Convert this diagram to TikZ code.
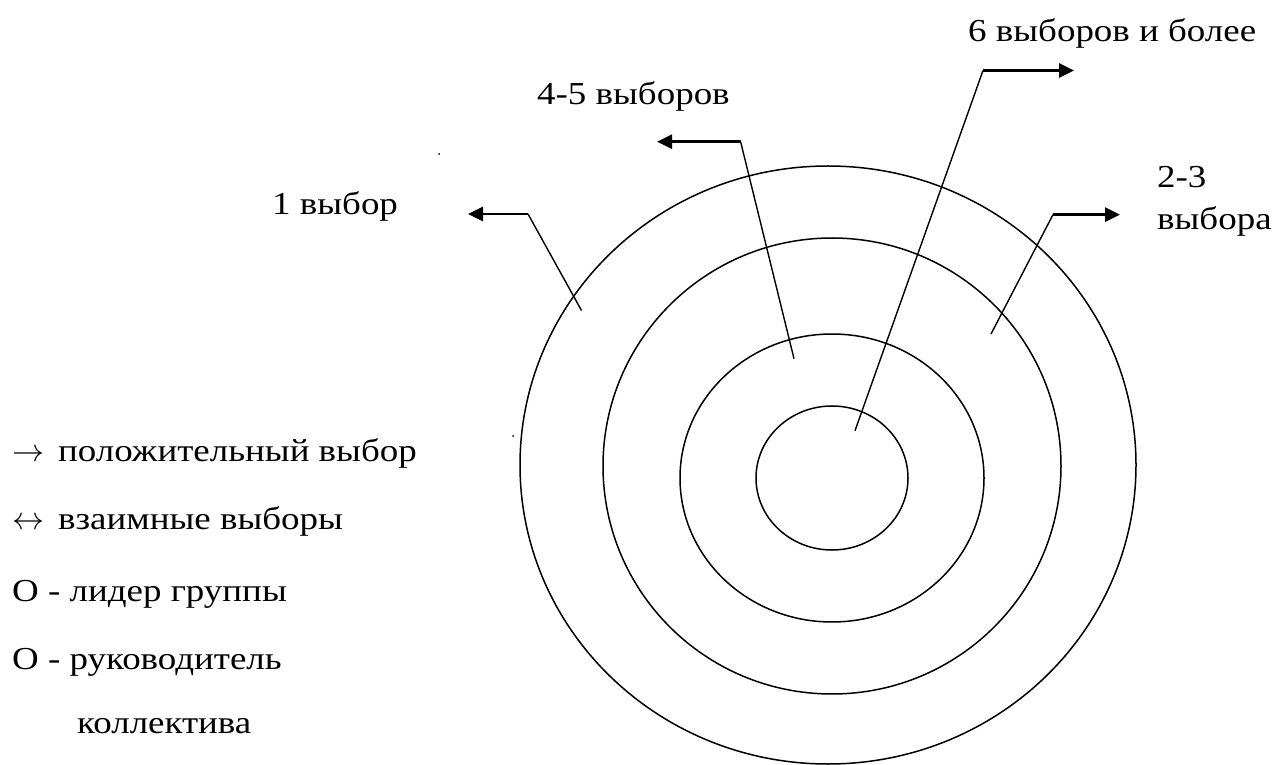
\RequirePackage{fix-cm}
\documentclass[tikz,border=0pt]{standalone}
\usepackage{fontspec}
\usepackage{graphicx}
\setmainfont{Liberation Serif}
\newfontfamily\trm{Liberation Serif}
\newcommand{\widetxt}[1]{\scalebox{1.155}[1]{#1}}
\usetikzlibrary{arrows.meta,shapes.geometric}
\begin{document}
\begin{tikzpicture}[x=1pt,y=1pt,
  ring/.style={draw,ellipse,line width=1.5pt,inner sep=0pt},
  lead/.style={line width=1.4pt},
  shaft/.style={line width=2.8pt,-{Triangle[length=15pt,width=14pt]}},
  lbl/.style={anchor=base west,inner sep=0pt,font=\trm\fontsize{32}{38}\selectfont}]
\useasboundingbox (0,0) rectangle (1275,764);
% rings
\node[ring,minimum width=616pt,minimum height=598pt] (r1) at (828,299) {};
\node[ring,minimum width=458pt,minimum height=456pt] (r2) at (832,298) {};
\node[ring,minimum width=304pt,minimum height=288pt] (r3) at (832,286) {};
\node[ring,minimum width=152pt,minimum height=144pt] (r4) at (832,286) {};
% leader coordinates
\coordinate (e1) at (581.5,453.5);
\coordinate (c1) at (528,550);
\coordinate (t1) at (468,550);
\coordinate (e2) at (794,405.3);
\coordinate (c2) at (740.6,622.3);
\coordinate (t2) at (657,622.3);
\coordinate (e3) at (855,333.3);
\coordinate (c3) at (983,693.5);
\coordinate (t3) at (1074,693.5);
\coordinate (e4) at (991,430);
\coordinate (c4) at (1053,549.4);
\coordinate (t4) at (1120,549.4);
\draw[lead] (e1) -- (c1);
\draw[shaft] (c1) -- (t1);
\draw[lead] (e2) -- (c2);
\draw[shaft] (c2) -- (t2);
\draw[lead] (e3) -- (c3);
\draw[shaft] (c3) -- (t3);
\draw[lead] (e4) -- (c4);
\draw[shaft] (c4) -- (t4);
% labels
\node[lbl] (l1) at (272,549) {\widetxt{1 выбор}};
\node[lbl] (l2) at (537,659) {\widetxt{4-5 выборов}};
\node[lbl] (l3) at (968,722) {\widetxt{6 выборов и более}};
\node[lbl] (l4a) at (1157,576) {\widetxt{2-3}};
\node[lbl] (l4b) at (1157,534) {\widetxt{выбора}};
% legend
\node[lbl] (g1a) at (12,302.3) {$\rightarrow$};
\node[lbl] (g1) at (58,302.3) {\widetxt{положительный выбор}};
\node[lbl] (g2a) at (12,234) {$\leftrightarrow$};
\node[lbl] (g2) at (58,234) {\widetxt{взаимные выборы}};
\node[lbl] (g3) at (12,162.3) {\widetxt{О - лидер группы}};
\node[lbl] (g4) at (12,95) {\widetxt{О - руководитель}};
\node[lbl] (g5) at (77,31) {\widetxt{коллектива}};
% stray dots
\fill (439,610) circle (1pt);
\fill (513,328) circle (1pt);
\end{tikzpicture}
\end{document}
